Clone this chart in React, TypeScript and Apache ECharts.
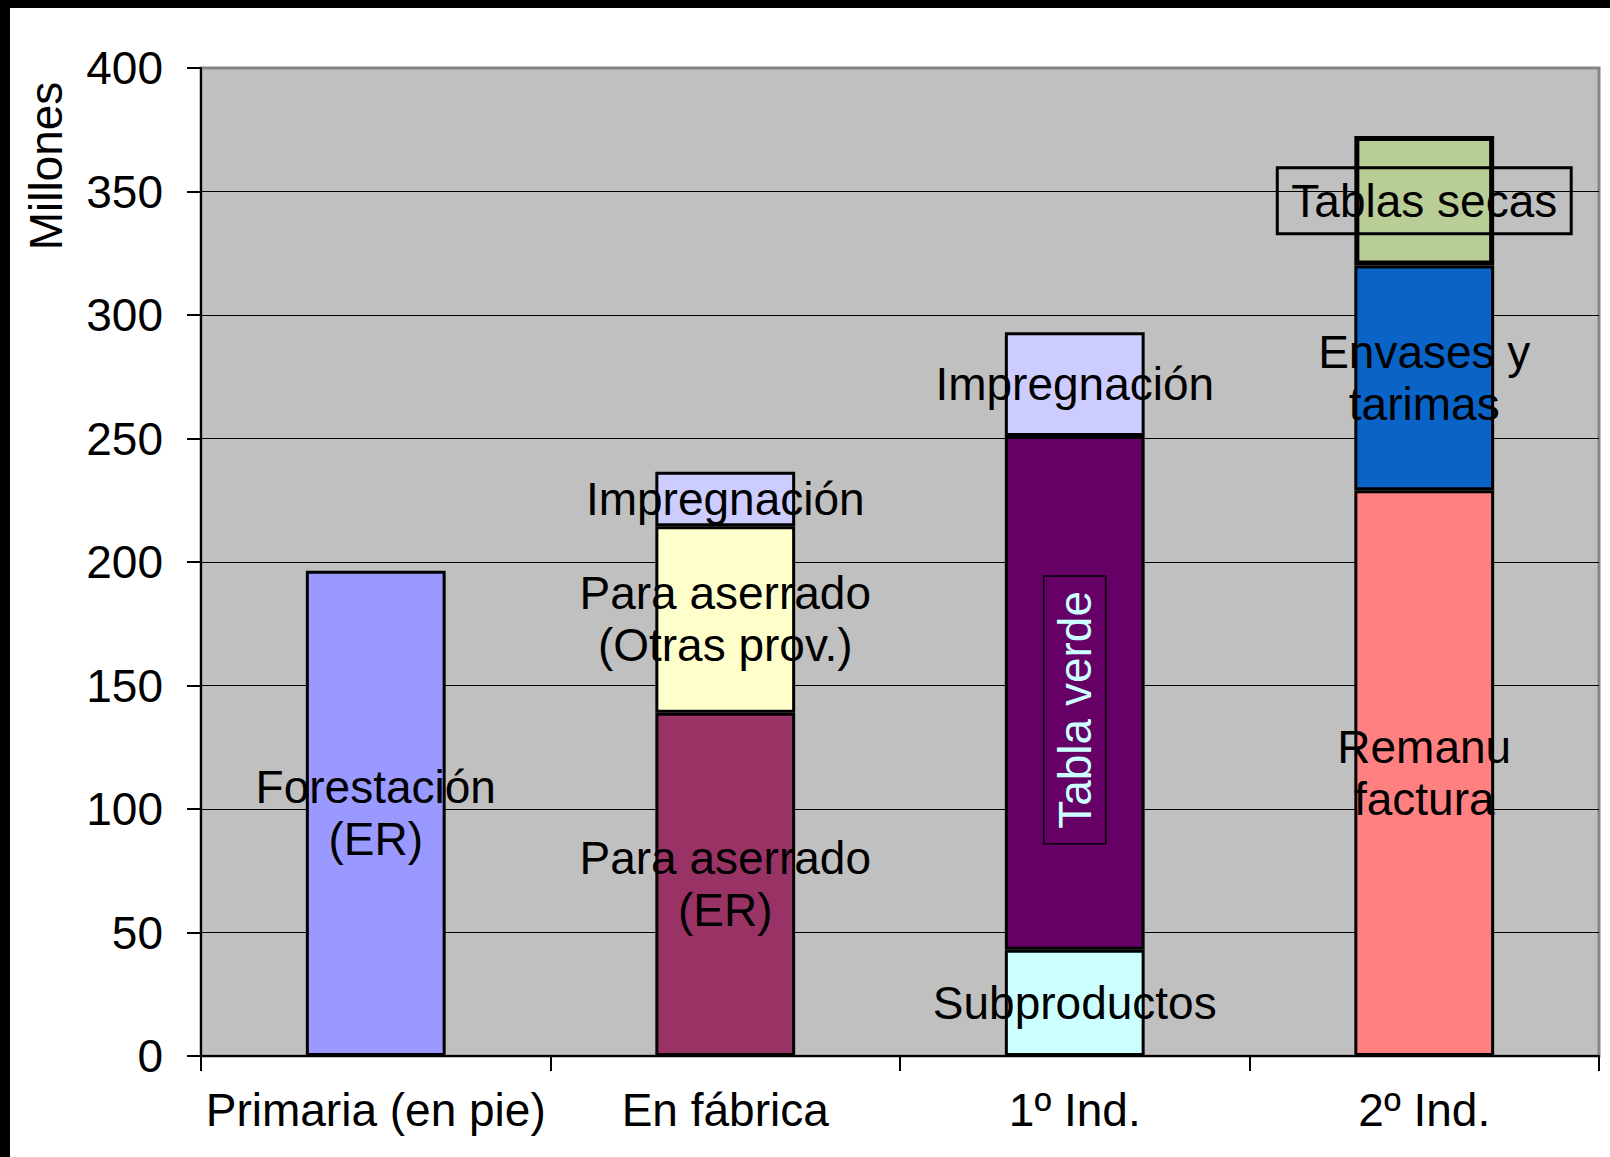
import React, { useEffect, useRef } from "react";
import * as echarts from "echarts";

const categories = ["Primaria (en pie)", "En fábrica", "1º Ind.", "2º Ind."];
const yTicks = { min: 0, max: 400, interval: 50 };

const forestacionER = [196.5, null, null, null];
const aserradoER = [null, 139, null, null];
const aserradoOtras = [null, 75.5, null, null];
const impregnacionFabrica = [null, 22, null, null];
const subproductos = [null, null, 43, null];
const tablaVerde = [null, null, 208, null];
const impregnacionInd = [null, null, 42, null];
const remanufactura = [null, null, null, 229];
const envasesTarimas = [null, null, null, 91];
const tablasSecas = [null, null, null, 52.5];

const FONT = "Liberation Sans, Arial, sans-serif";
const FS = 46;

export default function App() {
  const ref = useRef<HTMLDivElement>(null);
  useEffect(() => {
    if (!ref.current) return;
    const chart = echarts.init(ref.current, undefined, { renderer: "svg" });

    const baseLabel = {
      show: true,
      position: "inside",
      color: "#000",
      fontSize: FS,
      lineHeight: 52,
      fontFamily: FONT,
      textBorderWidth: 0,
    };

    const mk = (
      name: string,
      data: (number | null)[],
      color: string,
      labelText: string,
      extraLabel: any = {},
      borderWidth = 3
    ) => ({
      name,
      type: "bar",
      stack: "total",
      barWidth: "40%",
      data,
      itemStyle: { color, borderColor: "#000", borderWidth },
      label: { ...baseLabel, formatter: labelText, ...extraLabel },
      emphasis: { disabled: true },
    });

    const series = [
      mk("Forestación (ER)", forestacionER, "#9999FF", "Forestación\n(ER)"),
      mk("Para aserrado (ER)", aserradoER, "#993366", "Para aserrado\n(ER)"),
      mk("Para aserrado (Otras prov.)", aserradoOtras, "#FFFFCC", "Para aserrado\n(Otras prov.)"),
      mk("Impregnación", impregnacionFabrica, "#CCCCFF", "Impregnación"),
      mk("Subproductos", subproductos, "#CCFFFF", "Subproductos"),
      mk("Tabla verde", tablaVerde, "#660066", "Tabla verde", {
        rotate: 90,
        color: "#CCFFFF",
        borderColor: "#000",
        borderWidth: 1.5,
        padding: [5, 15],
        offset: [-17, 0],
      }),
      mk("Impregnación 1º", impregnacionInd, "#CCCCFF", "Impregnación"),
      mk("Remanufactura", remanufactura, "#FF8080", "Remanu\nfactura"),
      mk("Envases y tarimas", envasesTarimas, "#0A64C8", "Envases y\ntarimas"),
      mk(
        "Tablas secas",
        tablasSecas,
        "#B9CD96",
        "Tablas secas",
        { borderColor: "#000", borderWidth: 3, padding: [7, 14] },
        5
      ),
    ];

    chart.setOption({
      animation: false,
      backgroundColor: "#FFFFFF",
      textStyle: { fontFamily: FONT },
      grid: {
        left: 201,
        right: 11,
        top: 68,
        bottom: 101,
        show: true,
        backgroundColor: "#C0C0C0",
        borderColor: "#858585",
        borderWidth: 3,
      },
      xAxis: {
        type: "category",
        data: categories,
        axisLine: { show: true, lineStyle: { color: "#000", width: 2 } },
        axisTick: { show: true, length: 15, lineStyle: { color: "#000", width: 2 } },
        axisLabel: { color: "#000", fontSize: FS, fontFamily: FONT, margin: 31, interval: 0 },
        splitLine: { show: false },
      },
      yAxis: {
        type: "value",
        min: yTicks.min,
        max: yTicks.max,
        interval: yTicks.interval,
        axisLine: { show: true, lineStyle: { color: "#000", width: 2 } },
        axisTick: { show: true, length: 14, lineStyle: { color: "#000", width: 2 } },
        axisLabel: { color: "#000", fontSize: FS, fontFamily: FONT, margin: 38 },
        splitLine: { show: true, showMaxLine: false, lineStyle: { color: "#000", width: 1 } },
      },
      graphic: [
        { type: "rect", left: 0, top: 0, shape: { x: 0, y: 0, width: 1610, height: 8 }, style: { fill: "#000" }, z: 100 },
        { type: "rect", left: 0, top: 0, shape: { x: 0, y: 0, width: 10, height: 1157 }, style: { fill: "#000" }, z: 100 },
        {
          type: "text",
          x: 46,
          y: 166,
          rotation: Math.PI / 2,
          style: {
            text: "Millones",
            fontSize: FS,
            fontFamily: FONT,
            fill: "#000",
            textAlign: "center",
            textVerticalAlign: "middle",
          },
          z: 100,
        },
      ],
      series,
    });
    return () => chart.dispose();
  }, []);
  return (
    <div
      ref={ref}
      style={{ position: "fixed", left: 0, top: 0, width: 1610, height: 1157 }}
    />
  );
}
